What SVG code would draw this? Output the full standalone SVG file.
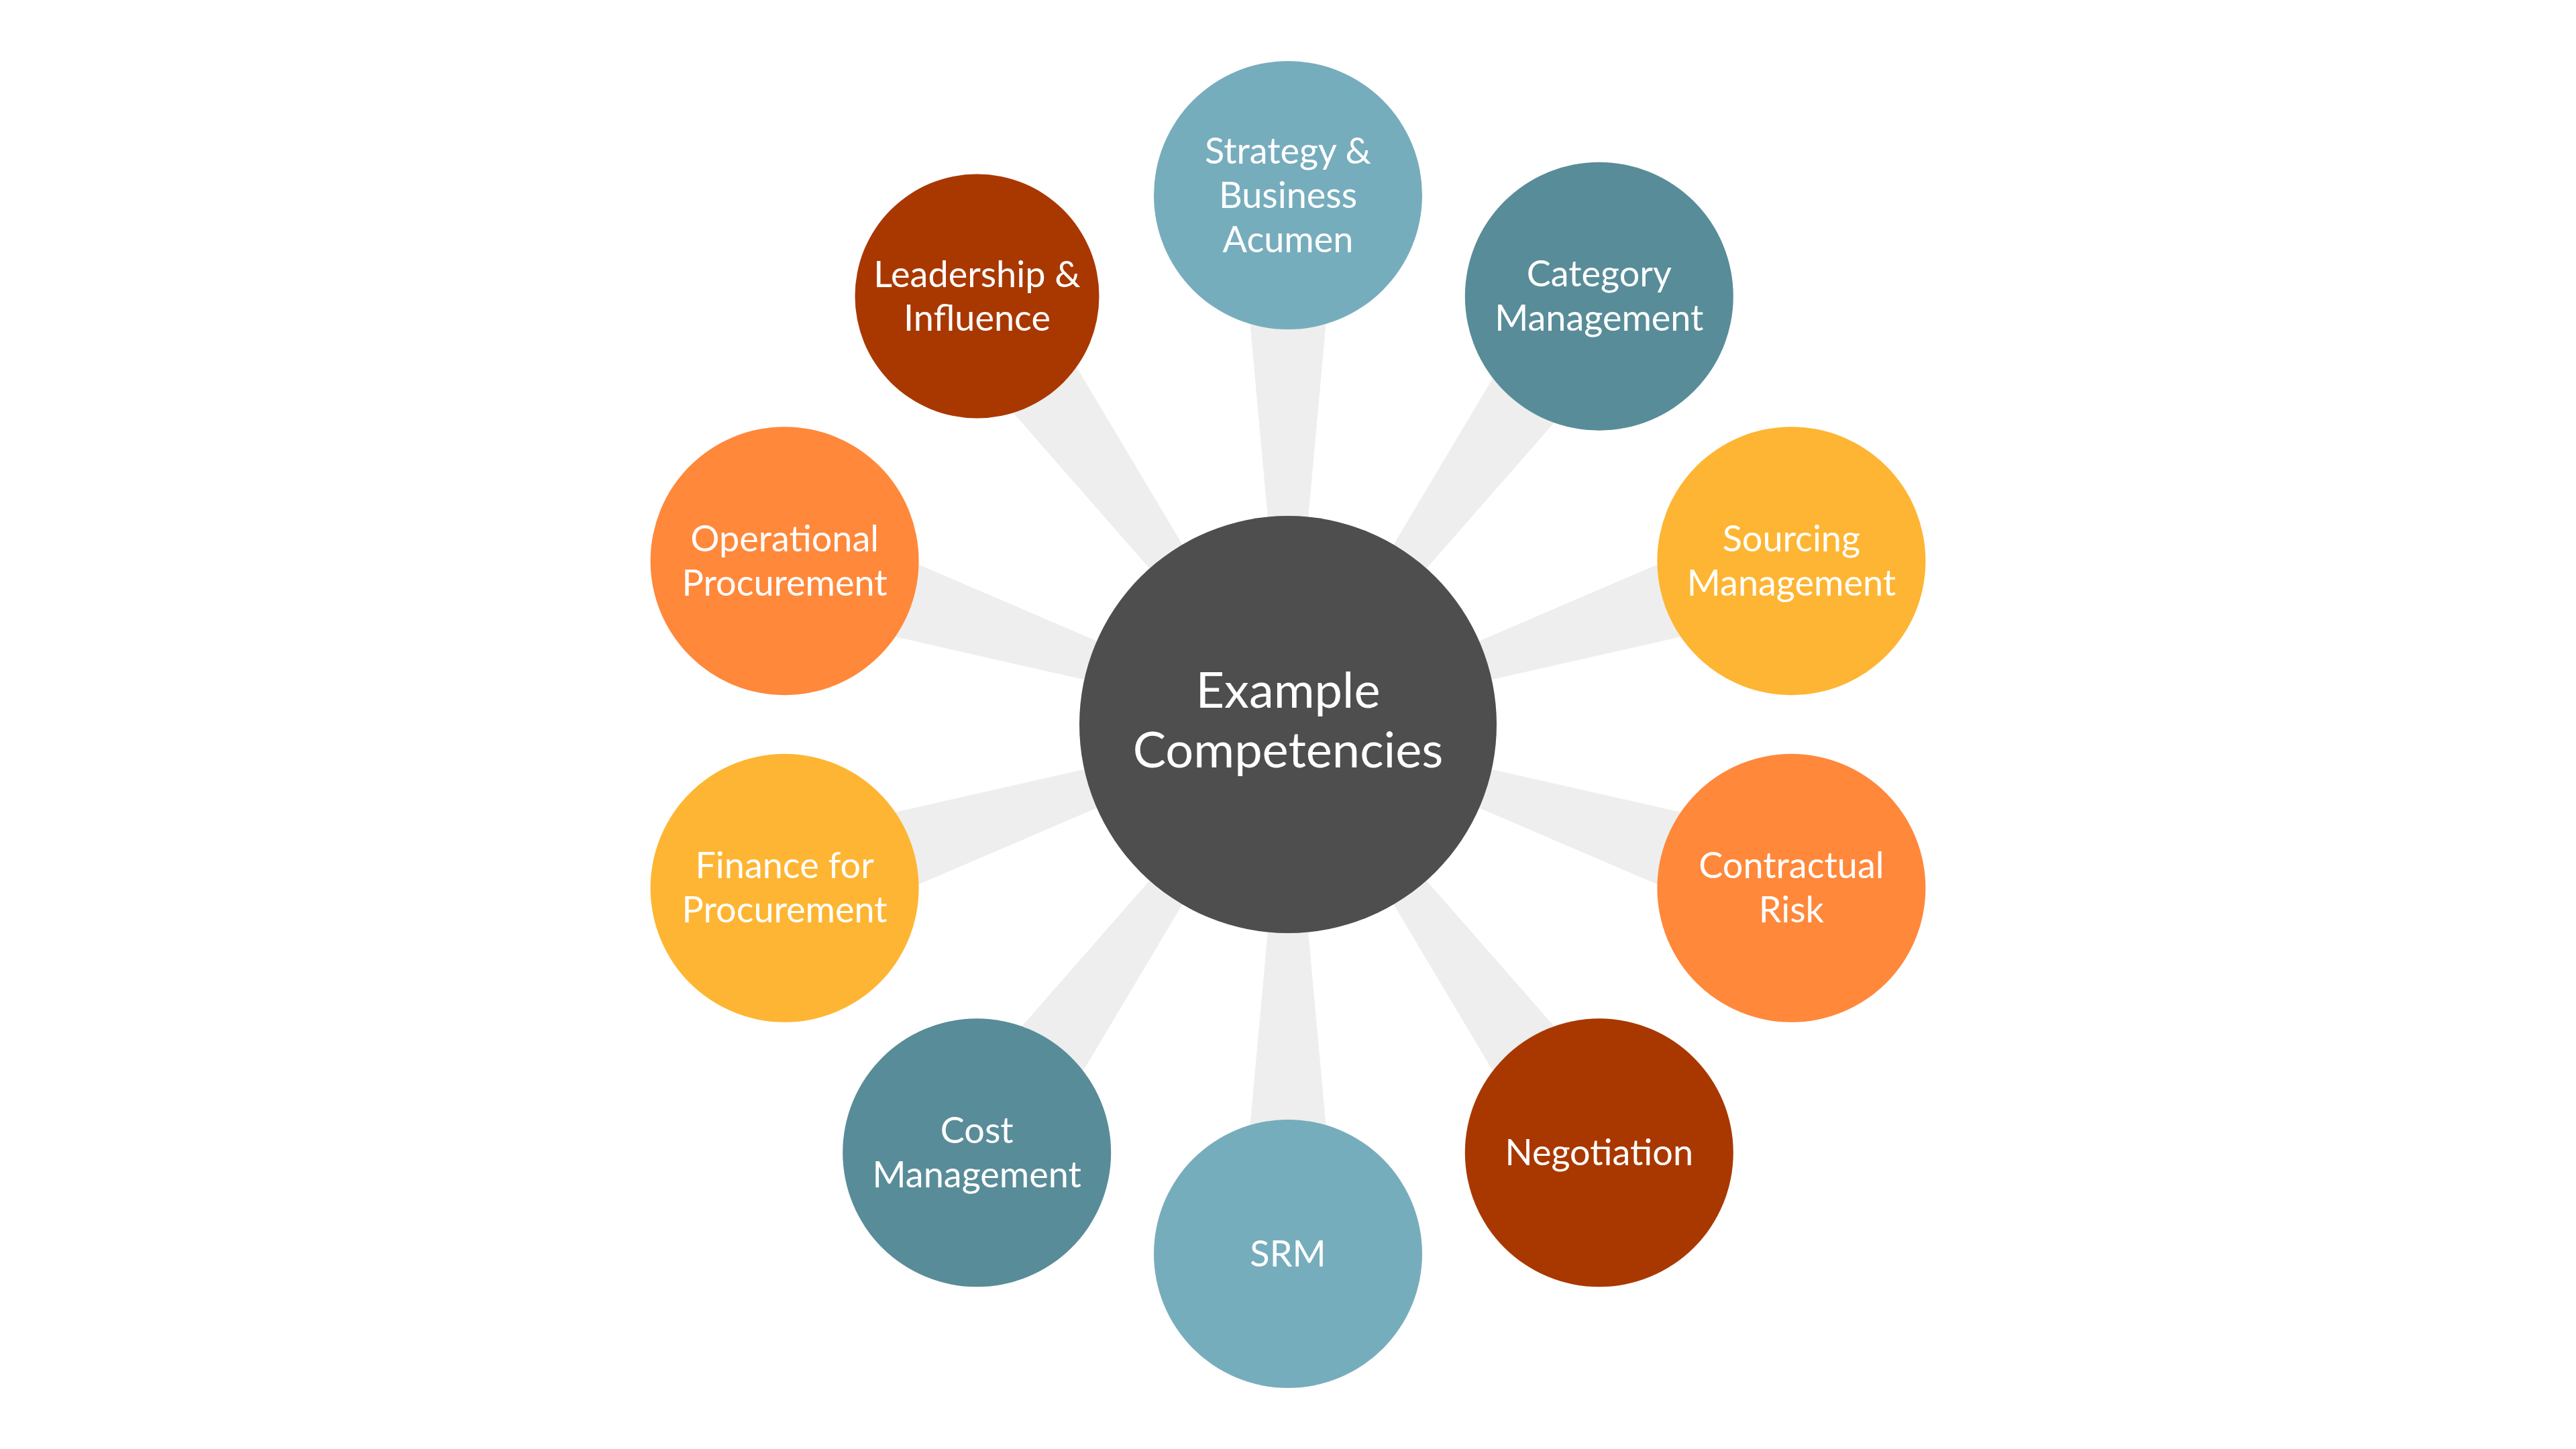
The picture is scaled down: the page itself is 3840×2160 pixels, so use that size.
<svg xmlns="http://www.w3.org/2000/svg" width="3840" height="2160" viewBox="0 0 3840 2160">
<style>
.link{fill:#eeeeee}
.node text{fill:#ffffff;font-family:"Lato","Open Sans","Liberation Sans",sans-serif;font-size:54px;text-anchor:middle}
.hub text{fill:#ffffff;font-family:"Lato","Open Sans","Liberation Sans",sans-serif;font-size:74px;text-anchor:middle}
.c1{fill:#76adbd}.c2{fill:#588c98}.c3{fill:#feb533}.c4{fill:#ff883b}.c5{fill:#a93800}
</style>
<rect width="3840" height="2160" fill="#ffffff"/>
<g id="connectors">
<polygon class="link" points="1918,1080 1922,1080 1994,291 1846,291"/>
<polygon class="link" points="1921.6,1081.2 1918.4,1078.8 2323.9,398.2 2443.7,485.2"/>
<polygon class="link" points="1920.6,1081.9 1919.4,1078.1 2647.5,765.8 2693.3,906.6"/>
<polygon class="link" points="1919.4,1081.9 1920.6,1078.1 2693.3,1253.4 2647.5,1394.2"/>
<polygon class="link" points="1918.4,1081.2 1921.6,1078.8 2443.7,1674.8 2323.9,1761.8"/>
<polygon class="link" points="1922,1080 1918,1080 1846,1869 1994,1869"/>
<polygon class="link" points="1918.4,1078.8 1921.6,1081.2 1516.1,1761.8 1396.3,1674.8"/>
<polygon class="link" points="1919.4,1078.1 1920.6,1081.9 1192.5,1394.2 1146.7,1253.4"/>
<polygon class="link" points="1920.6,1078.1 1919.4,1081.9 1146.7,906.6 1192.5,765.8"/>
<polygon class="link" points="1921.6,1078.8 1918.4,1081.2 1396.3,485.2 1516.1,398.2"/>
</g>
<g id="hub" class="hub">
<circle cx="1920" cy="1080" r="311" fill="#4e4e4e"/>
<text x="1920" y="1055">Example</text>
<text x="1920" y="1144">Competencies</text>
</g>
<g id="strategy" class="node">
<circle class="c1" cx="1920" cy="291" r="200"/>
<text x="1920" y="243.5">Strategy &amp;</text>
<text x="1920" y="309.5">Business</text>
<text x="1920" y="375.5">Acumen</text>
</g>
<g id="category" class="node">
<circle class="c2" cx="2383.8" cy="441.7" r="200"/>
<text x="2383.8" y="427">Category</text>
<text x="2383.8" y="493">Management</text>
</g>
<g id="sourcing" class="node">
<circle class="c3" cx="2670.4" cy="836.2" r="200"/>
<text x="2670.4" y="821.5">Sourcing</text>
<text x="2670.4" y="887.5">Management</text>
</g>
<g id="contractual" class="node">
<circle class="c4" cx="2670.4" cy="1323.8" r="200"/>
<text x="2670.4" y="1309">Contractual</text>
<text x="2670.4" y="1375">Risk</text>
</g>
<g id="negotiation" class="node">
<circle class="c5" cx="2383.8" cy="1718.3" r="200"/>
<text x="2383.8" y="1737">Negotiation</text>
</g>
<g id="srm" class="node">
<circle class="c1" cx="1920" cy="1869" r="200"/>
<text x="1920" y="1887.5">SRM</text>
</g>
<g id="cost" class="node">
<circle class="c2" cx="1456.2" cy="1718.3" r="200"/>
<text x="1456.2" y="1704">Cost</text>
<text x="1456.2" y="1770">Management</text>
</g>
<g id="finance" class="node">
<circle class="c3" cx="1169.6" cy="1323.8" r="200"/>
<text x="1169.6" y="1309">Finance for</text>
<text x="1169.6" y="1375">Procurement</text>
</g>
<g id="operational" class="node">
<circle class="c4" cx="1169.6" cy="836.2" r="200"/>
<text x="1169.6" y="821.5">Operational</text>
<text x="1169.6" y="887.5">Procurement</text>
</g>
<g id="leadership" class="node">
<circle class="c5" cx="1456.5" cy="441.5" r="182"/>
<text x="1456.5" y="428">Leadership &amp;</text>
<text x="1456.5" y="493">Influence</text>
</g>
</svg>
